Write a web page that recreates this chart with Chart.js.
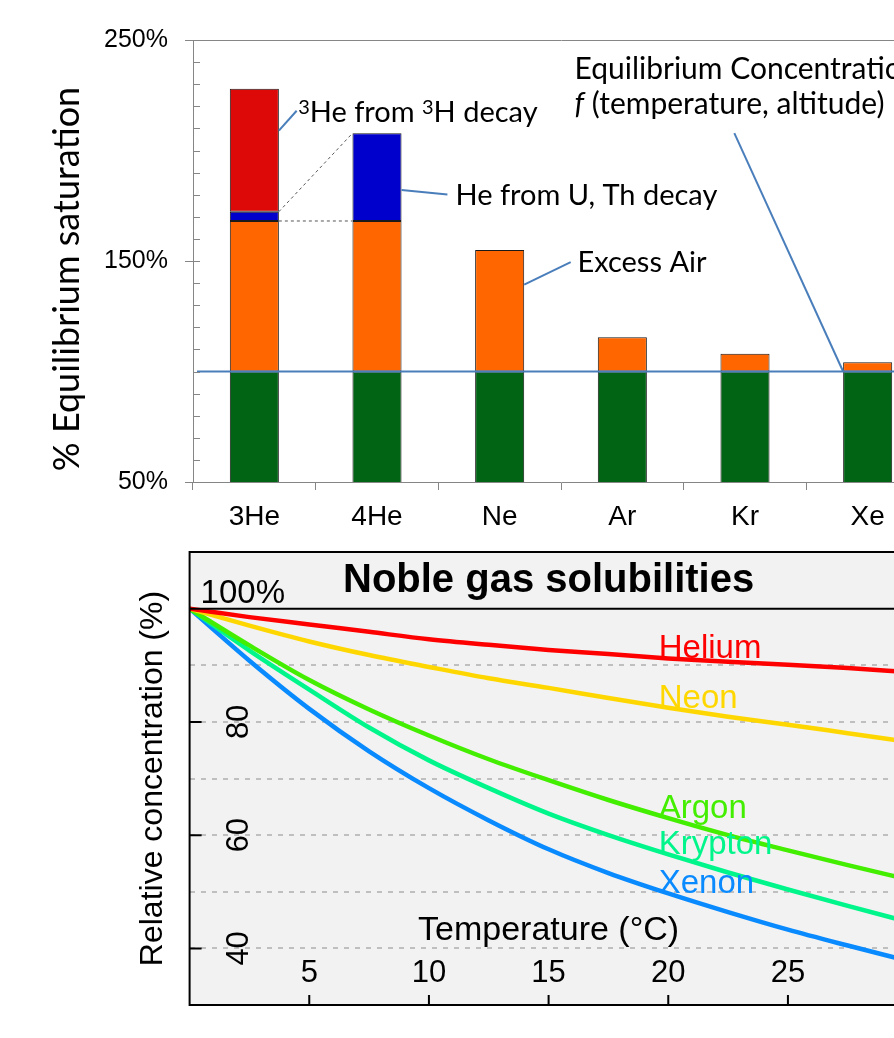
<!DOCTYPE html>
<html>
<head>
<meta charset="utf-8">
<title>Noble gas saturation and solubilities</title>
<script src="https://cdn.jsdelivr.net/npm/chart.js@4.4.1/dist/chart.umd.min.js"></script>
<style>
  body { margin: 0; background: #fff; overflow: hidden; }
  #wrap { position: relative; width: 894px; height: 1038px; overflow: hidden; }
  canvas { position: absolute; left: 0; }
  #satChart { top: 0; }
  #solChart { top: 540px; }
</style>
</head>
<body>
<div id="wrap">
  <canvas id="satChart" width="940" height="540"></canvas>
  <canvas id="solChart" width="920" height="498"></canvas>
</div>
<script>
// --- top chart: % equilibrium saturation per gas ---
const gases = ['3He', '4He', 'Ne', 'Ar', 'Kr', 'Xe'];
const equilibrium = [100, 100, 100, 100, 100, 100];
const excessAir = [68.1, 68.1, 55, 15.5, 8, 4.2];
const heFromUTh = [4.2, 39.7, null, null, null, null];
const heFromTritium = [55.6, null, null, null, null, null];
const satLabelTicks = [50, 150, 250];
const equilibriumLevel = 100;

// --- bottom chart: relative solubility vs temperature ---
const temps = [0, 2.5, 5, 7.5, 10, 12.5, 15, 17.5, 20, 22.5, 25, 27.5, 30];
const helium = [100, 98.5, 97.2, 95.9, 94.6, 93.6, 92.7, 92.0, 91.2, 90.6, 90.1, 89.5, 88.8];
const neon = [100, 97.0, 94.2, 91.8, 89.7, 87.7, 86.0, 84.2, 82.5, 80.9, 79.5, 78.0, 76.5];
const argon = [100, 93.5, 87.4, 82.2, 77.6, 73.4, 69.7, 66.2, 63.0, 60.0, 57.3, 54.7, 52.2];
const krypton = [100, 92.6, 85.7, 79.0, 73.2, 68.3, 63.8, 60.0, 56.6, 53.4, 50.4, 47.5, 44.7];
const xenon = [100, 90.8, 82.3, 74.8, 68.3, 62.6, 57.5, 53.3, 49.7, 46.4, 43.3, 40.5, 37.8];
const tempTicks = [5, 10, 15, 20, 25];
const concTicks = [40, 60, 80];

const ARIAL = '"Liberation Sans", Arial, sans-serif';
const CALIBRI = 'Lato, "Open Sans", sans-serif';
Chart.defaults.font.family = ARIAL;
Chart.defaults.color = '#000';

// callouts in the top chart, positions as [category index, % value]
// text parts: [text, style] where style is '', 'sup' or 'italic'
const callouts = [
  { from: [0.2, 209.0], to: [0.345, 218.0], at: [0.357, 212.8], size: 29,
    lines: [[['3', 'sup'], ['He from ', ''], ['3', 'sup'], ['H decay', '']]] },
  { from: [1.2, 182.1], to: [1.574, 180.1], at: [1.64, 175.3], size: 29,
    lines: [[['He from U, Th decay', '']]] },
  { from: [2.2, 139.3], to: [2.579, 149.5], at: [2.634, 145.2], size: 29,
    lines: [[['Excess Air', '']]] },
  { from: [4.8, 100], to: [3.913, 207.9], at: [2.61, 232.2], size: 30, lineStep: 15.9,
    lines: [[['Equilibrium Concentration', '']], [['f', 'italic'], [' (temperature, altitude)', '']]] }
];

const satDecor = {
  id: 'satDecor',
  afterDatasetsDraw(chart) {
    const { ctx, chartArea, scales: { x, y } } = chart;
    const step = x.getPixelForValue(1) - x.getPixelForValue(0);
    const px = i => x.getPixelForValue(0) + i * step;
    ctx.save();

    // dashed connectors 3He -> 4He
    const air = chart.getDatasetMeta(1).data;
    const uth = chart.getDatasetMeta(2).data;
    ctx.strokeStyle = '#555';
    ctx.lineWidth = 1;
    ctx.setLineDash([3, 3]);
    ctx.beginPath();
    ctx.moveTo(air[0].x + air[0].width / 2, air[0].y);
    ctx.lineTo(air[1].x - air[1].width / 2, air[1].y);
    ctx.moveTo(uth[0].x + uth[0].width / 2, uth[0].y);
    ctx.lineTo(uth[1].x - uth[1].width / 2, uth[1].y);
    ctx.stroke();
    ctx.setLineDash([]);

    // equilibrium level line
    const yEq = y.getPixelForValue(equilibriumLevel);
    ctx.strokeStyle = '#4A7EBB';
    ctx.lineWidth = 2;
    ctx.beginPath();
    ctx.moveTo(chartArea.left + 4, yEq);
    ctx.lineTo(chart.width, yEq);
    ctx.stroke();

    // callout leaders and texts
    ctx.fillStyle = '#000';
    ctx.textBaseline = 'alphabetic';
    ctx.textAlign = 'left';
    callouts.forEach(c => {
      ctx.beginPath();
      ctx.moveTo(px(c.from[0]), y.getPixelForValue(c.from[1]));
      ctx.lineTo(px(c.to[0]), y.getPixelForValue(c.to[1]));
      ctx.stroke();
      c.lines.forEach((parts, li) => {
        let tx = px(c.at[0]);
        const ty = y.getPixelForValue(c.at[1] - li * (c.lineStep || 0));
        parts.forEach(([t, style]) => {
          let size = c.size, dy = 0, pre = '';
          if (style === 'sup') { size = Math.round(c.size * 0.68); dy = -c.size * 0.3; }
          if (style === 'italic') pre = 'italic ';
          ctx.font = pre + size + 'px ' + CALIBRI;
          ctx.fillText(t, tx, ty + dy);
          tx += ctx.measureText(t).width;
        });
      });
    });
    ctx.restore();
  },
  afterDraw(chart) {
    const { ctx, chartArea, scales: { y } } = chart;
    ctx.save();
    // y tick marks: labelled ones cross the axis, the rest point inwards
    ctx.strokeStyle = '#868686';
    ctx.lineWidth = 1;
    ctx.beginPath();
    y.ticks.forEach(t => {
      const py = Math.round(y.getPixelForValue(t.value)) + 0.5;
      const major = satLabelTicks.includes(t.value);
      ctx.moveTo(y.right - (major ? 8 : 0), py);
      ctx.lineTo(y.right + 7, py);
    });
    ctx.stroke();
    // y axis title
    ctx.translate(67, (chartArea.top + chartArea.bottom) / 2 + 18);
    ctx.rotate(-Math.PI / 2);
    ctx.textAlign = 'center';
    ctx.textBaseline = 'middle';
    ctx.font = '36px ' + CALIBRI;
    ctx.fillStyle = '#000';
    ctx.fillText('% Equilibrium saturation', 0, 0);
    ctx.restore();
  }
};

new Chart(document.getElementById('satChart'), {
  type: 'bar',
  data: {
    labels: gases,
    datasets: [
      { label: 'Equilibrium', data: equilibrium, backgroundColor: '#006414' },
      { label: 'Excess Air', data: excessAir, backgroundColor: '#FF6600' },
      { label: 'He from U, Th decay', data: heFromUTh, backgroundColor: '#0000CC' },
      { label: '3He from 3H decay', data: heFromTritium, backgroundColor: '#DD0808' }
    ]
  },
  options: {
    responsive: false,
    animation: false,
    layout: { padding: { left: 0, top: 37, right: 11, bottom: 0 } },
    datasets: {
      bar: {
        barPercentage: 0.4,
        categoryPercentage: 1,
        borderColor: '#1a1a1a',
        borderWidth: 1,
        borderSkipped: false
      }
    },
    plugins: { legend: { display: false }, tooltip: { enabled: false } },
    scales: {
      x: {
        stacked: true,
        afterFit: s => { s.height = 58; },
        grid: { offset: true, drawOnChartArea: false, drawTicks: true, tickLength: 8, tickColor: '#868686' },
        border: { color: '#868686', width: 1 },
        ticks: { font: { size: 28 }, padding: 10, color: '#000' }
      },
      y: {
        stacked: true,
        min: 50,
        max: 250,
        afterFit: s => { s.width = 193; },
        grid: {
          drawTicks: false,
          color: c => (c.tick && c.tick.value === 250 ? '#868686' : 'transparent')
        },
        border: { color: '#868686', width: 1 },
        ticks: {
          stepSize: 10,
          autoSkip: false,
          padding: 25,
          font: { size: 25 },
          color: '#000',
          callback: v => (satLabelTicks.includes(v) ? v + '%' : '')
        }
      }
    }
  },
  plugins: [satDecor]
});

// --- bottom chart ---
const species = [
  { name: 'Helium', values: helium, color: '#FF0000' },
  { name: 'Neon', values: neon, color: '#FFD700' },
  { name: 'Argon', values: argon, color: '#44EE00' },
  { name: 'Krypton', values: krypton, color: '#00F58A' },
  { name: 'Xenon', values: xenon, color: '#0A8AFF' }
];
const labelTemp = 19.6;   // where the species names start
const labelIndex = temps.indexOf(20);

const solDecor = {
  id: 'solDecor',
  beforeDraw(chart) {
    const { ctx, chartArea: a } = chart;
    ctx.save();
    ctx.fillStyle = '#F2F2F2';
    ctx.fillRect(a.left, a.top, a.right - a.left, a.bottom - a.top);
    ctx.restore();
  },
  afterDatasetsDraw(chart) {
    const { ctx, scales: { x, y } } = chart;
    ctx.save();
    ctx.font = '33px ' + ARIAL;
    ctx.textAlign = 'left';
    ctx.textBaseline = 'alphabetic';
    species.forEach(s => {
      ctx.fillStyle = s.color;
      ctx.fillText(s.name, x.getPixelForValue(labelTemp), y.getPixelForValue(s.values[labelIndex]));
    });
    ctx.restore();
  },
  afterDraw(chart) {
    const { ctx, chartArea: a, scales: { x, y } } = chart;
    const y100 = y.getPixelForValue(100);
    ctx.save();
    ctx.strokeStyle = '#000';
    ctx.lineWidth = 2;
    ctx.strokeRect(a.left, a.top, a.right - a.left, a.bottom - a.top);
    ctx.beginPath();
    ctx.moveTo(a.left, y100);
    ctx.lineTo(a.right, y100);
    // inward tick marks
    concTicks.forEach(v => {
      const py = y.getPixelForValue(v);
      ctx.moveTo(a.left, py);
      ctx.lineTo(a.left + 12, py);
    });
    tempTicks.forEach(v => {
      const pxv = x.getPixelForValue(v);
      ctx.moveTo(pxv, a.bottom);
      ctx.lineTo(pxv, a.bottom - 10);
    });
    ctx.stroke();

    ctx.fillStyle = '#000';
    // x tick labels
    ctx.font = '31px ' + ARIAL;
    ctx.textAlign = 'center';
    ctx.textBaseline = 'alphabetic';
    tempTicks.forEach(v => ctx.fillText(String(v), x.getPixelForValue(v), a.bottom - 23));
    // x title inside plot
    ctx.font = '34px ' + ARIAL;
    ctx.fillText('Temperature (\u00B0C)', (a.left + a.right) / 2, a.bottom - 65);
    // title band
    ctx.font = 'bold 40px ' + ARIAL;
    ctx.fillText('Noble gas solubilities', (a.left + a.right) / 2, y100 - 17);
    ctx.font = '33px ' + ARIAL;
    ctx.textAlign = 'left';
    ctx.fillText('100%', a.left + 11, y100 - 6);

    // rotated y tick labels
    ctx.font = '31px ' + ARIAL;
    concTicks.forEach(v => {
      ctx.save();
      ctx.translate(a.left + 58, y.getPixelForValue(v));
      ctx.rotate(-Math.PI / 2);
      ctx.textAlign = 'center';
      ctx.fillText(String(v), 0, 0);
      ctx.restore();
    });
    // y axis title
    ctx.translate(153, (a.top + a.bottom) / 2);
    ctx.rotate(-Math.PI / 2);
    ctx.textAlign = 'center';
    ctx.textBaseline = 'middle';
    ctx.font = '32px ' + ARIAL;
    ctx.fillText('Relative concentration (%)', 0, 0);
    ctx.restore();
  }
};

new Chart(document.getElementById('solChart'), {
  type: 'line',
  data: {
    datasets: species.map(s => ({
      label: s.name,
      data: temps.map((t, i) => ({ x: t, y: s.values[i] })),
      borderColor: s.color,
      borderWidth: 4.5,
      pointRadius: 0,
      cubicInterpolationMode: 'monotone',
      fill: false
    }))
  },
  options: {
    responsive: false,
    animation: false,
    layout: { padding: { left: 0, top: 12, right: 12.4, bottom: 0 } },
    plugins: { legend: { display: false }, tooltip: { enabled: false } },
    scales: {
      x: {
        type: 'linear',
        min: 0,
        max: 30,
        afterFit: s => { s.height = 33; },
        ticks: { display: false, stepSize: 5 },
        grid: { display: false },
        border: { display: false }
      },
      y: {
        min: 30,
        max: 110,
        afterFit: s => { s.width = 189.6; },
        ticks: { display: false, stepSize: 10 },
        grid: {
          drawTicks: false,
          lineWidth: 2,
          color: c => (c.tick && c.tick.value >= 40 && c.tick.value <= 90 ? '#BFBFBF' : 'transparent')
        },
        border: { display: false, dash: [5, 6] }
      }
    }
  },
  plugins: [solDecor]
});
</script>
</body>
</html>
